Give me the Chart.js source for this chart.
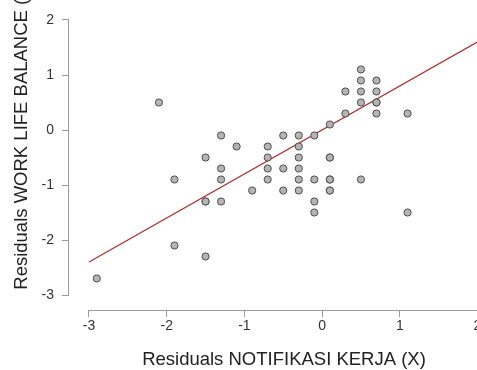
<!DOCTYPE html>
<html>
<head>
<meta charset="utf-8">
<script src="https://cdn.jsdelivr.net/npm/chart.js@4"></script>
<style>
  html, body { margin: 0; padding: 0; background: #fff; overflow: hidden; }
  body { width: 477px; height: 370px; position: relative; }
  #chart { position: absolute; left: 0; top: -50px; }
</style>
</head>
<body>
<canvas id="chart" width="504" height="430"></canvas>
<script>
// residual pairs
const residX = [-2.1, 0.5, 0.5, 0.7, 0.3, 0.5, 0.7, 0.5, 0.7, 0.7, 0.3, 0.7, 1.1, 0.1,
    -1.3, -0.5, -0.3, -0.1, -1.1, -0.7, -0.3, -1.5, -0.7, -0.3, 0.1, 0.1,
    -1.3, -0.7, -0.5, -0.3, -1.9, -1.3, -0.7, -0.3, -0.1, 0.1, 0.1, 0.5,
    -0.9, -0.5, -0.3, 0.1, 0.1, -1.5, -1.5, -1.3, -0.1, -0.1, 1.1, -1.9, -1.5, -2.9];
const residY = [0.5, 1.1, 0.9, 0.9, 0.7, 0.7, 0.7, 0.5, 0.5, 0.5, 0.3, 0.3, 0.3, 0.1,
    -0.1, -0.1, -0.1, -0.1, -0.3, -0.3, -0.3, -0.5, -0.5, -0.5, -0.5, -0.5,
    -0.7, -0.7, -0.7, -0.7, -0.9, -0.9, -0.9, -0.9, -0.9, -0.9, -0.9, -0.9,
    -1.1, -1.1, -1.1, -1.1, -1.1, -1.3, -1.3, -1.3, -1.3, -1.5, -1.5, -2.1, -2.3, -2.7];
// fitted line end points
const fitX = [-3, 2.3];
const fitY = [-2.4, 1.84];
const xTicks = [-3, -2, -1, 0, 1, 2];
const yTicks = [-3, -2, -1, 0, 1, 2];

const points = residX.map((x, i) => ({ x: x, y: residY[i] }));
const fitLine = fitX.map((x, i) => ({ x: x, y: fitY[i] }));

const axisGray = '#9a9a9a';
const font = 'Liberation Sans, Arial, sans-serif';

// R-style detached axis lines, spanning only the labelled range
const axisLines = {
    id: 'axisLines',
    afterDraw(chart) {
        const ctx = chart.ctx;
        const xs = chart.scales.x, ys = chart.scales.y;
        const area = chart.chartArea;
        ctx.save();
        ctx.strokeStyle = axisGray;
        ctx.lineWidth = 1;
        ctx.beginPath();
        ctx.moveTo(xs.getPixelForValue(xTicks[0]), area.bottom + 0.5);
        ctx.lineTo(xs.getPixelForValue(xTicks[xTicks.length - 1]), area.bottom + 0.5);
        ctx.moveTo(area.left - 0.5, ys.getPixelForValue(yTicks[yTicks.length - 1]));
        ctx.lineTo(area.left - 0.5, ys.getPixelForValue(yTicks[0]));
        ctx.stroke();
        ctx.restore();
    }
};

new Chart(document.getElementById('chart'), {
    type: 'scatter',
    data: {
        datasets: [{
            data: points,
            pointRadius: 3.6,
            pointBackgroundColor: '#b4b4b4',
            pointBorderColor: '#4d4d4d',
            pointBorderWidth: 1,
            order: 1
        }, {
            type: 'line',
            data: fitLine,
            borderColor: '#b03030',
            borderWidth: 1.3,
            pointRadius: 0,
            fill: false,
            order: 2
        }]
    },
    options: {
        responsive: false,
        animation: false,
        devicePixelRatio: 1,
        layout: { padding: { left: 0, top: 10, right: 0, bottom: 9 } },
        plugins: { legend: { display: false }, tooltip: { enabled: false } },
        scales: {
            x: {
                type: 'linear',
                min: -3.2574,
                max: 2.277,
                afterBuildTicks: s => { s.ticks = xTicks.map(v => ({ value: v })); },
                afterFit: s => { s.height = 61; },
                border: { display: false },
                grid: { drawOnChartArea: false, drawTicks: true, tickLength: 7, color: axisGray },
                ticks: { padding: 1, color: '#333', font: { family: font, size: 14 } },
                title: {
                    display: true,
                    text: 'Residuals NOTIFIKASI KERJA (X)',
                    color: '#222',
                    padding: 0,
                    font: { family: font, size: 18.5 }
                }
            },
            y: {
                type: 'linear',
                min: -3.2727,
                max: 3.0909,
                afterBuildTicks: s => { s.ticks = yTicks.map(v => ({ value: v })); },
                afterFit: s => { s.width = 69; s.paddingTop = 0; s.paddingBottom = 0; },
                border: { display: false },
                grid: { drawOnChartArea: false, drawTicks: true, tickLength: 7, color: axisGray },
                ticks: { padding: 8, color: '#333', font: { family: font, size: 14 } },
                title: {
                    display: true,
                    text: 'Residuals WORK LIFE BALANCE (Y)',
                    color: '#222',
                    padding: { top: 11, bottom: 0 },
                    font: { family: font, size: 18.5 }
                }
            }
        }
    },
    plugins: [axisLines]
});
</script>
</body>
</html>
